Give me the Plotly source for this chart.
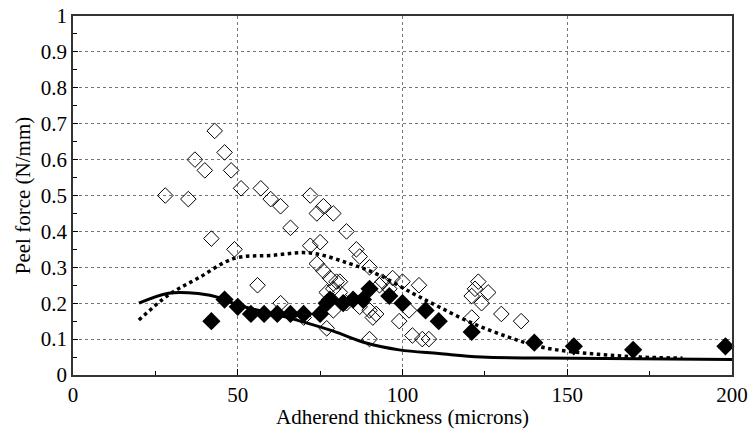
import plotly.graph_objects as go

# Open diamonds (experimental)
open_x = [28, 35, 37, 40, 42, 43, 46, 48, 49, 51, 56, 57, 60, 63, 63, 66, 70, 72, 72, 74, 74, 75, 76, 76,
          77, 77, 78, 79, 79, 79, 80, 81, 81, 83, 83, 86, 87, 87, 90, 90, 90, 91, 92, 93, 94, 96, 97, 99,
          100, 102, 103, 105, 106, 108, 121, 121, 122, 123, 124, 126, 130, 136]
open_y = [0.50, 0.49, 0.60, 0.57, 0.38, 0.68, 0.62, 0.57, 0.35, 0.52, 0.25, 0.52, 0.49, 0.47, 0.20, 0.41, 0.16,
          0.50, 0.36, 0.45, 0.31, 0.37, 0.47, 0.29, 0.13, 0.23, 0.27, 0.45, 0.24, 0.18, 0.26, 0.23, 0.26,
          0.40, 0.20, 0.35, 0.33, 0.19, 0.30, 0.10, 0.18, 0.16, 0.17, 0.25, 0.26, 0.24, 0.27, 0.15, 0.26,
          0.18, 0.11, 0.25, 0.10, 0.10, 0.22, 0.16, 0.24, 0.26, 0.20, 0.23, 0.17, 0.15]

# Filled diamonds
filled_x = [42, 46, 50, 54, 58, 62, 66, 70, 75, 77, 78, 82, 85, 88, 90, 96, 100, 107, 111, 121, 140, 152, 170, 198]
filled_y = [0.15, 0.21, 0.19, 0.17, 0.17, 0.17, 0.17, 0.17, 0.17, 0.20, 0.21, 0.20, 0.21, 0.21, 0.24, 0.22,
            0.20, 0.18, 0.15, 0.12, 0.09, 0.08, 0.07, 0.08]

# Solid model curve
solid_x = [20, 29, 38, 45, 50, 60, 69, 79, 89, 99, 111, 124, 152, 200]
solid_y = [0.20, 0.228, 0.227, 0.214, 0.195, 0.172, 0.15, 0.122, 0.089, 0.07, 0.06, 0.05, 0.047, 0.043]

# Dotted model curve
dot_x = [20, 29, 38, 49, 60, 72, 84, 93, 103, 111, 121, 132, 142, 152, 162, 172, 185]
dot_y = [0.153, 0.223, 0.27, 0.325, 0.333, 0.34, 0.31, 0.278, 0.228, 0.19, 0.145, 0.106, 0.078, 0.064,
         0.056, 0.05, 0.047]

x_ticks = [0, 50, 100, 150, 200]
y_ticks = [0, 0.1, 0.2, 0.3, 0.4, 0.5, 0.6, 0.7, 0.8, 0.9, 1]
y_labels = ["0", "0.1", "0.2", "0.3", "0.4", "0.5", "0.6", "0.7", "0.8", "0.9", "1"]

FONT = "Liberation Serif"

fig = go.Figure()
fig.add_trace(go.Scatter(x=open_x, y=open_y, mode="markers",
                         marker=dict(symbol="diamond-open", size=12, color="black", line=dict(width=1)),
                         showlegend=False))
fig.add_trace(go.Scatter(x=solid_x, y=solid_y, mode="lines",
                         line=dict(color="black", width=3, shape="spline"), showlegend=False))
fig.add_trace(go.Scatter(x=dot_x, y=dot_y, mode="lines",
                         line=dict(color="black", width=3.5, dash="dot", shape="spline"), showlegend=False))
fig.add_trace(go.Scatter(x=filled_x, y=filled_y, mode="markers", cliponaxis=False,
                         marker=dict(symbol="diamond", size=14, color="black"),
                         showlegend=False))

fig.update_layout(
    width=748, height=433,
    margin=dict(l=73, r=16, t=16, b=58),
    paper_bgcolor="white", plot_bgcolor="white",
    font=dict(family=FONT, size=21, color="black"),
    xaxis=dict(range=[0, 200], tickvals=x_ticks, ticks="inside", ticklen=6, tickcolor="black",
               showline=True, linecolor="#333", linewidth=1.5, mirror=True, automargin=False,
               ticklabeloverflow="allow",
               showgrid=True, gridcolor="#777", gridwidth=1, griddash="dot",
               minor=dict(ticks="inside", dtick=25, ticklen=4, tickcolor="black", showgrid=False),
               zeroline=False, tickfont=dict(size=21)),
    yaxis=dict(range=[0, 1], tickvals=y_ticks, ticktext=y_labels, ticks="inside", ticklen=5,
               tickcolor="black", automargin=False, ticklabeloverflow="allow",
               showline=True, linecolor="#333", linewidth=1.5, mirror=True,
               showgrid=True, gridcolor="#777", gridwidth=1, griddash="dot",
               minor=dict(ticks="inside", dtick=0.05, ticklen=4, tickcolor="black", showgrid=False),
               zeroline=False, tickfont=dict(size=21),
               title=dict(text="Peel force (N/mm)", font=dict(size=21), standoff=4)),
    annotations=[dict(text="Adherend thickness (microns)", x=0.5, y=0, xref="paper", yref="paper",
                      xanchor="center", yanchor="middle", yshift=-42, showarrow=False,
                      font=dict(family=FONT, size=21, color="black"))],
)

# Remove the browser's default 8px body margin so the figure fills the window exactly.
fig.write_html("out.html", config={"displayModeBar": False},
               post_script="document.body.style.margin='0';")
